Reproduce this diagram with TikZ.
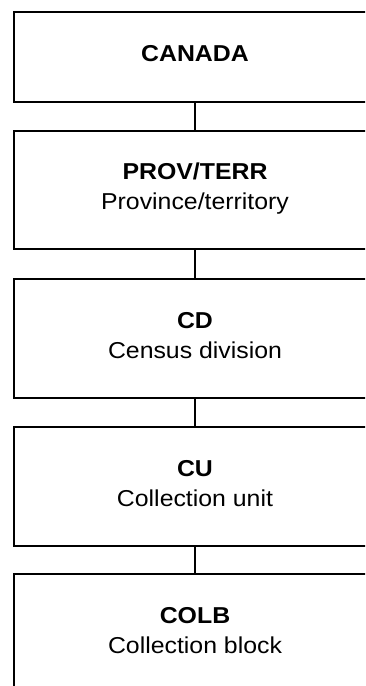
\documentclass[tikz,border=0pt]{standalone}
\usepackage{fontspec}
\setmainfont{Liberation Sans}[FakeStretch=1.08]
\usepackage{tikz}

\begin{document}
\begin{tikzpicture}[x=1pt,y=-1pt,
  lvl/.style={draw,line width=1.5pt,minimum width=362pt,inner sep=0pt,
    align=center,text depth=7pt,font=\fontsize{23}{30}\selectfont},
  link/.style={line width=1.5pt}]
 % page frame (boxes run past the right and bottom edge)
 \clip (0,0) rectangle (365,686);
 % Geographic levels
 \node[lvl,minimum height=90pt] (canada) at (195,57) {\textbf{CANADA}};
 \node[lvl,minimum height=118pt] (prov) at (195,190) {\textbf{PROV/TERR}\\Province/territory};
 \node[lvl,minimum height=119pt] (cd) at (195,338.5) {\textbf{CD}\\Census division};
 \node[lvl,minimum height=119pt] (cu) at (195,486.5) {\textbf{CU}\\Collection unit};
 \node[lvl,minimum height=119pt] (colb) at (195,633.5) {\textbf{COLB}\\Collection block};
 % Links between levels
 \draw[link] (canada) -- (prov);
 \draw[link] (prov) -- (cd);
 \draw[link] (cd) -- (cu);
 \draw[link] (cu) -- (colb);
\end{tikzpicture}
\end{document}
